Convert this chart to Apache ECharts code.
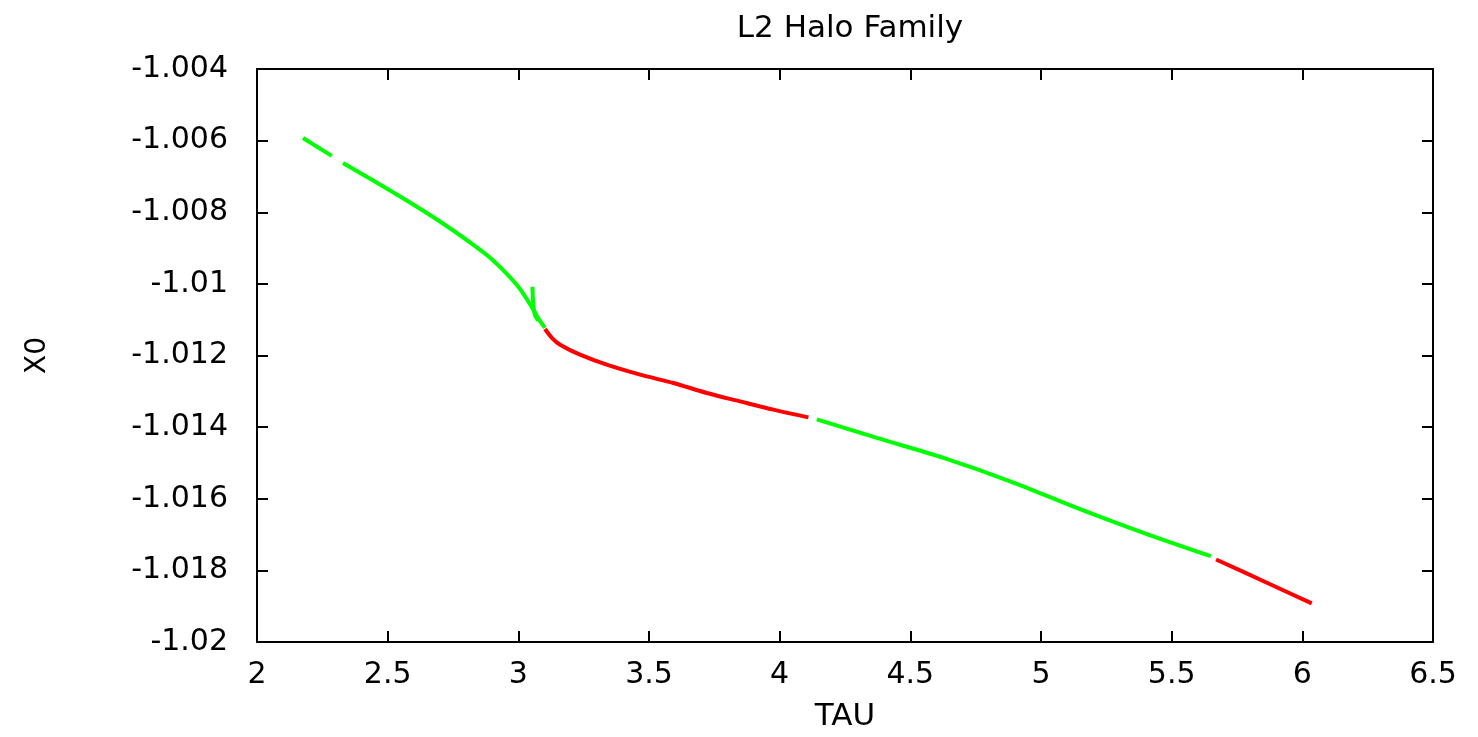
<!DOCTYPE html>
<html>
<head>
<meta charset="utf-8">
<script src="https://cdn.jsdelivr.net/npm/echarts@6/dist/echarts.min.js"></script>
<style>html,body{margin:0;padding:0;background:#fff;}#c{width:1478px;height:737px;}</style>
</head>
<body>
<div id="c"></div>
<script>
// TAU / X0 values
const greenStart = [[2.176,-1.005925],[2.286,-1.006427]];
const greenUpper = [[2.329,-1.006622],[2.445,-1.007116],[2.573,-1.007674],[2.700,-1.008259],[2.828,-1.008909],[2.892,-1.009270],[2.956,-1.009720],[3.000,-1.010080],[3.030,-1.010400],[3.055,-1.010690],[3.075,-1.010950],[3.090,-1.011110],[3.102,-1.011225]];
const greenSpur = [[3.054,-1.01008],[3.057,-1.01055],[3.064,-1.01088],[3.076,-1.01102]];
const redMiddle = [[3.102,-1.011261],[3.130,-1.011520],[3.160,-1.011699],[3.236,-1.011978],[3.338,-1.012257],[3.466,-1.012536],[3.593,-1.012767],[3.721,-1.013046],[3.848,-1.013280],[3.976,-1.013512],[4.110,-1.013727]];
const greenLower = [[4.142,-1.013782],[4.372,-1.014301],[4.627,-1.014859],[4.882,-1.015512],[5.137,-1.016254],[5.392,-1.016951],[5.650,-1.017604]];
const redEnd = [[5.670,-1.017696],[5.854,-1.018310],[6.036,-1.018923]];

const xTicks = {min:2, max:6.5, interval:0.5};
const yTicks = {min:-1.02, max:-1.004, interval:0.002};

const GREEN = '#00ff00', RED = '#ff0000';
const FONT = 'DejaVu Sans';

function seg(data, color){
  return {type:'line', data:data, smooth:0.3, showSymbol:false, symbol:'none',
    lineStyle:{color:color, width:4}, silent:true, animation:false, z:3};
}

const chart = echarts.init(document.getElementById('c'), null, {renderer:'canvas'});
const axisLine = {show:true, lineStyle:{color:'#000', width:2}};
const tickIn = {show:true, inside:true, length:11, lineStyle:{color:'#000', width:2}};
chart.setOption({
  animation:false,
  backgroundColor:'#fff',
  title:{text:'L2 Halo Family', left:845, top:8, textAlign:'center',
    textStyle:{fontFamily:FONT, fontSize:31, fontWeight:'normal', color:'#000'}},
  grid:{left:257, right:45, top:69, bottom:93, containLabel:false},
  xAxis:[
    {type:'value', min:xTicks.min, max:xTicks.max, interval:xTicks.interval, position:'bottom',
      name:'TAU', nameLocation:'middle', nameGap:59,
      nameTextStyle:{fontFamily:FONT, fontSize:31, color:'#000'},
      axisLine:axisLine, axisTick:tickIn, splitLine:{show:false},
      axisLabel:{fontFamily:FONT, fontSize:30, color:'#000', margin:18,
        formatter:v=>String(parseFloat(v.toFixed(2)))}},
    {type:'value', min:xTicks.min, max:xTicks.max, interval:xTicks.interval, position:'top',
      axisLine:axisLine, axisTick:tickIn, axisLabel:{show:false}, splitLine:{show:false}}
  ],
  yAxis:[
    {type:'value', min:yTicks.min, max:yTicks.max, interval:yTicks.interval, position:'left',
      name:'X0', nameLocation:'middle', nameGap:205, nameRotate:90,
      nameTextStyle:{fontFamily:FONT, fontSize:28, color:'#000'},
      axisLine:axisLine, axisTick:tickIn, splitLine:{show:false},
      axisLabel:{fontFamily:FONT, fontSize:30, color:'#000', margin:29,
        formatter:v=>String(parseFloat(v.toFixed(3)))}},
    {type:'value', min:yTicks.min, max:yTicks.max, interval:yTicks.interval, position:'right',
      axisLine:axisLine, axisTick:tickIn, axisLabel:{show:false}, splitLine:{show:false}}
  ],
  series:[
    seg(greenStart, GREEN),
    seg(greenUpper, GREEN),
    seg(greenSpur, GREEN),
    seg(redMiddle, RED),
    seg(greenLower, GREEN),
    seg(redEnd, RED)
  ]
});
</script>
</body>
</html>
